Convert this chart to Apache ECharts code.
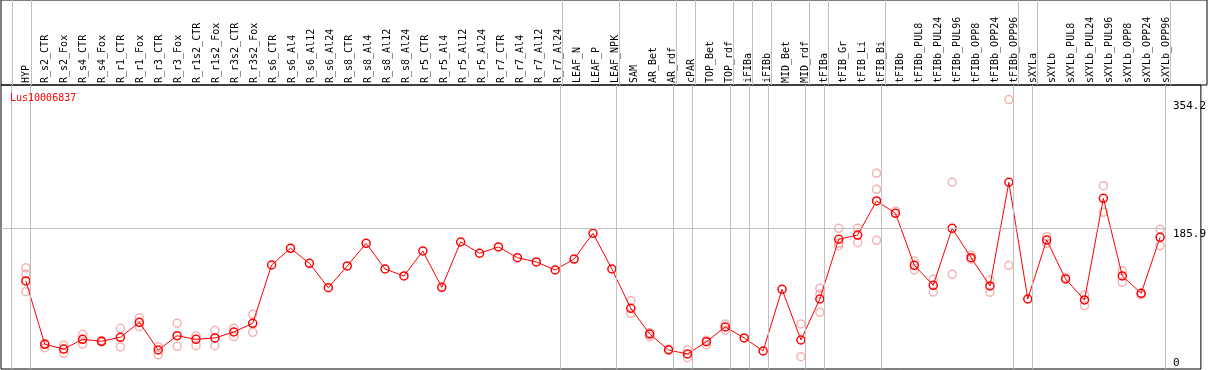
<!DOCTYPE html>
<html>
<head>
<meta charset="utf-8">
<script src="https://cdn.jsdelivr.net/npm/echarts@6/dist/echarts.min.js"></script>
<style>
  html, body { margin: 0; padding: 0; background: #fff; }
  #chart { width: 1209px; height: 370px; }
</style>
</head>
<body>
<div id="chart"></div>
<script>
var geneName = 'Lus10006837';

var categories = [
  'HYP', 'R_s2_CTR', 'R_s2_Fox', 'R_s4_CTR', 'R_s4_Fox', 'R_r1_CTR', 'R_r1_Fox',
  'R_r3_CTR', 'R_r3_Fox', 'R_r1s2_CTR', 'R_r1s2_Fox', 'R_r3s2_CTR', 'R_r3s2_Fox',
  'R_s6_CTR', 'R_s6_Al4', 'R_s6_Al12', 'R_s6_Al24', 'R_s8_CTR', 'R_s8_Al4',
  'R_s8_Al12', 'R_s8_Al24', 'R_r5_CTR', 'R_r5_Al4', 'R_r5_Al12', 'R_r5_Al24',
  'R_r7_CTR', 'R_r7_Al4', 'R_r7_Al12', 'R_r7_Al24', 'LEAF_N', 'LEAF_P', 'LEAF_NPK',
  'SAM', 'AR_Bet', 'AR_rdf', 'cPAR', 'TOP_Bet', 'TOP_rdf', 'iFIBa', 'iFIBb',
  'MID_Bet', 'MID_rdf', 'tFIBa', 'tFIB_Gr', 'tFIB_Li', 'tFIB_Bi', 'tFIBb',
  'tFIBb_PUL8', 'tFIBb_PUL24', 'tFIBb_PUL96', 'tFIBb_OPP8', 'tFIBb_OPP24', 'tFIBb_OPP96',
  'sXYLa', 'sXYLb', 'sXYLb_PUL8', 'sXYLb_PUL24', 'sXYLb_PUL96', 'sXYLb_OPP8',
  'sXYLb_OPP24', 'sXYLb_OPP96'
];

// mean expression per sample
var means = [
  116.3, 32.6, 26.4, 39.2, 36.6, 41.9, 61.7, 25.1, 44.0, 39.2, 41.0, 48.9, 60.4,
  137.4, 159.5, 139.6, 107.4, 136.1, 166.0, 132.1, 122.9, 155.9, 107.9, 167.8, 152.9,
  161.2, 147.1, 141.4, 130.8, 145.3, 179.3, 132.1,
  80.2, 46.2, 25.1, 19.8, 36.1, 55.5, 41.0, 23.8, 105.3, 38.3, 92.5,
  171.4, 177.0, 222.0, 205.7, 137.0, 110.6, 185.9, 147.1, 109.7, 246.7,
  92.5, 170.4, 118.9, 91.2, 225.5, 122.9, 100.0, 174.0
];

// replicate values per sample (only the ones that stand apart from the mean)
var replicates = [
  [133.8, 125.5, 102.1], [34.0, 28.1], [31.3, 20.7], [45.8, 33.0], [37.5, 35.5],
  [53.8, 29.1], [67.8, 55.9], [29.5, 18.5], [60.4, 30.0], [44.0, 30.8], [51.1, 30.8],
  [53.8, 42.7], [72.3, 48.5],
  [], [], [], [], [], [], [], [], [], [], [], [], [], [], [], [], [], [], [],
  [90.2, 73.6], [42.7, 48.0], [26.5], [25.1, 14.9], [31.7, 38.0], [59.5, 51.5],
  [], [], [], [59.5, 16.3], [106.6, 98.7, 74.9],
  [185.9, 166.1, 162.9], [185.9, 166.9], [258.5, 237.4, 170.0], [208.7],
  [142.7, 130.8], [118.5, 101.7], [246.7, 125.1], [150.6, 145.0], [117.6, 101.3],
  [356.0, 137.0],
  [], [174.8, 166.1], [121.0], [97.8, 83.6], [242.2, 207.0], [129.9, 114.5],
  [97.8], [184.6, 162.9]
];

// group separators are drawn just after these sample indices
var groupEnds = [-1, 0, 28, 31, 34, 35, 37, 38, 39, 41, 42, 45, 52, 53, 60];
var yTicks = [0, 185.9, 354.2];
var refLevel = 185.9;

var xMin = -1.3158, xMax = 62.158;
var sepOffset = 0.25;

var meanData = means.map(function (v, i) { return [i, v]; });
var repData = [];
replicates.forEach(function (arr, i) {
  arr.forEach(function (v) { repData.push([i, v]); });
});
var sepLines = groupEnds.map(function (i) { return { xAxis: i + sepOffset }; });
var catTicks = categories.map(function (c, i) { return i; });

var sepStyle = { color: '#c0c0c0', width: 1, type: 'solid' };
var mono = 'DejaVu Sans Mono';

var chart = echarts.init(document.getElementById('chart'), null, { renderer: 'canvas' });
chart.setOption({
  animation: false,
  backgroundColor: '#fff',
  title: {
    text: geneName,
    left: 5,
    top: 88,
    textStyle: { color: '#ff0000', fontFamily: mono, fontSize: 10, fontWeight: 'normal' }
  },
  grid: [
    { left: 1, top: 0, right: 2, height: 85, show: true, borderColor: '#000', borderWidth: 1 },
    { left: 1, top: 85, right: 2, bottom: 1, show: true, borderColor: '#000', borderWidth: 1 }
  ],
  xAxis: [
    {
      type: 'value', gridIndex: 0, min: xMin, max: xMax, position: 'bottom',
      axisLine: { show: false }, axisTick: { show: false }, splitLine: { show: false },
      axisLabel: {
        customValues: catTicks,
        inside: true,
        rotate: 90,
        margin: 2,
        color: '#000',
        fontFamily: mono,
        fontSize: 10,
        formatter: function (v) { return categories[Math.round(v)]; }
      }
    },
    {
      type: 'value', gridIndex: 1, min: xMin, max: xMax, show: false
    }
  ],
  yAxis: [
    { type: 'value', gridIndex: 0, min: 0, max: 1, show: false },
    {
      type: 'value', gridIndex: 1, min: 0, max: 375.2, position: 'right',
      axisLine: { show: false }, axisTick: { show: false }, splitLine: { show: false },
      axisLabel: {
        customValues: yTicks,
        inside: true,
        align: 'left',
        margin: 28,
        verticalAlign: 'top',
        verticalAlignMinLabel: 'bottom',
        color: '#000',
        fontFamily: mono,
        fontSize: 11
      }
    }
  ],
  series: [
    {
      type: 'line', xAxisIndex: 0, yAxisIndex: 0, data: [], silent: true,
      markLine: { silent: true, symbol: 'none', label: { show: false }, lineStyle: sepStyle, data: sepLines }
    },
    {
      type: 'line', xAxisIndex: 1, yAxisIndex: 1, data: [], silent: true,
      markLine: {
        silent: true, symbol: 'none', label: { show: false }, lineStyle: sepStyle,
        data: sepLines.concat([[
          { coord: [xMin, refLevel] },
          { coord: [groupEnds[groupEnds.length - 1] + sepOffset, refLevel] }
        ]])
      }
    },
    {
      name: 'replicates',
      type: 'scatter', xAxisIndex: 1, yAxisIndex: 1, z: 2,
      data: repData,
      symbol: 'circle', symbolSize: 8,
      itemStyle: { color: 'rgba(0,0,0,0)', borderColor: '#f0a0a0', borderWidth: 1.5 }
    },
    {
      name: 'mean',
      type: 'line', xAxisIndex: 1, yAxisIndex: 1, z: 3,
      data: meanData,
      symbol: 'circle', symbolSize: 8,
      lineStyle: { color: '#ff0000', width: 1 },
      itemStyle: { color: 'rgba(0,0,0,0)', borderColor: '#ff0000', borderWidth: 1.5 }
    }
  ]
});
</script>
</body>
</html>
